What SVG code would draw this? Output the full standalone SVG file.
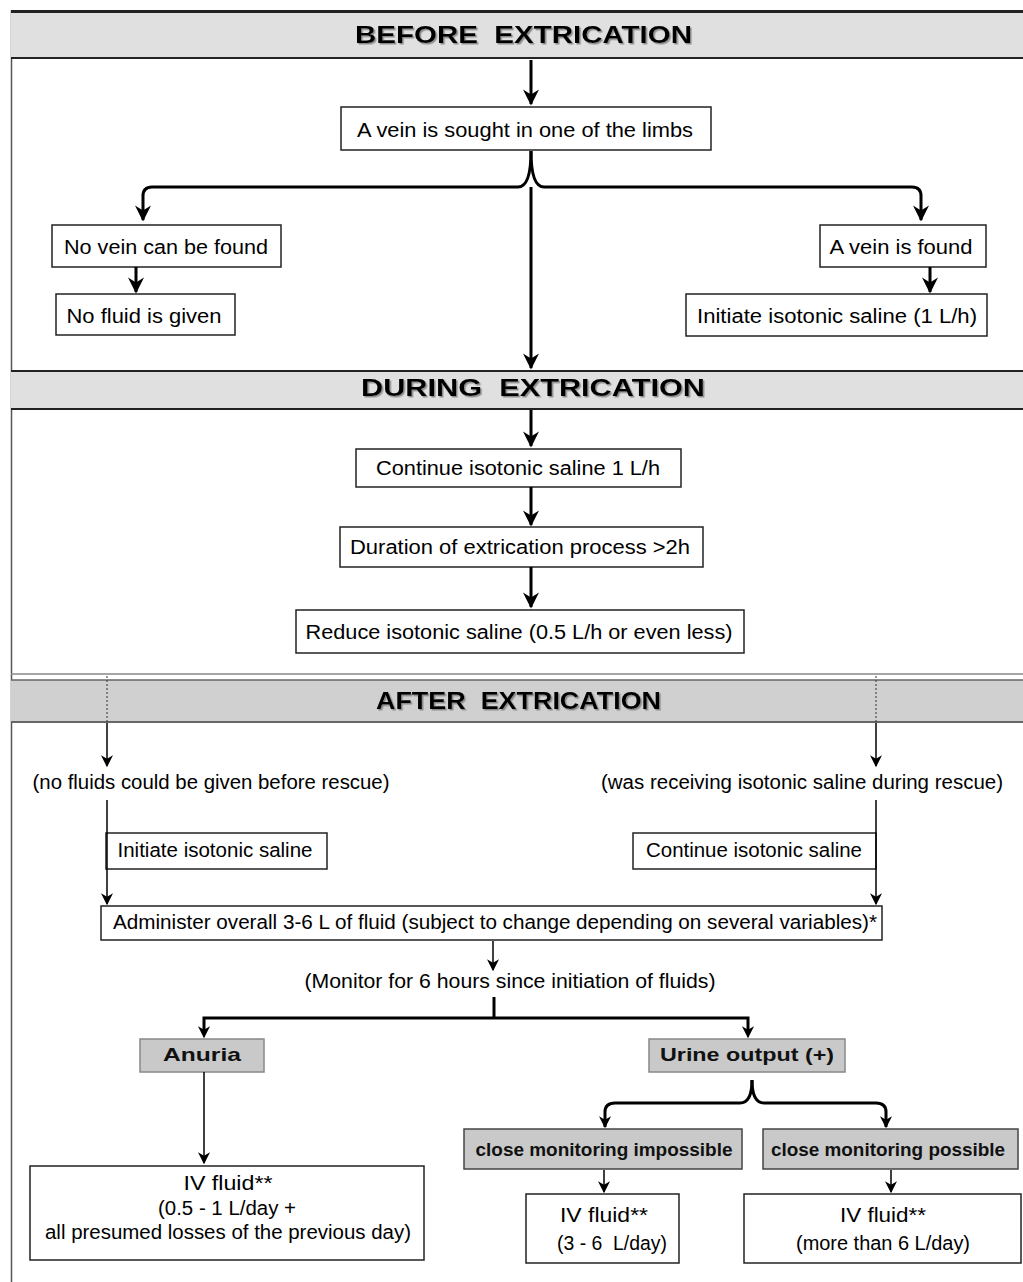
<svg xmlns="http://www.w3.org/2000/svg" width="1023" height="1282" viewBox="0 0 1023 1282">
<defs>
<marker id="ahb" viewBox="0 0 10 10" refX="9" refY="5" markerWidth="18" markerHeight="16" orient="auto" markerUnits="userSpaceOnUse">
<path d="M0,0 L10,5 L0,10 L3,5 Z" fill="#000"/>
</marker>
<marker id="aht" viewBox="0 0 10 10" refX="9" refY="5" markerWidth="14" markerHeight="12" orient="auto" markerUnits="userSpaceOnUse">
<path d="M0,0 L10,5 L0,10 L3,5 Z" fill="#000"/>
</marker>
<filter id="sh" x="-5%" y="-20%" width="110%" height="150%">
<feDropShadow dx="1.5" dy="1.5" stdDeviation="0.6" flood-color="#777" flood-opacity="0.8"/>
</filter>
<style>
text{font-family:"Liberation Sans",Arial,sans-serif;fill:#000;}
.t{font-size:20px;text-anchor:middle;}
.h{font-size:24px;font-weight:bold;text-anchor:middle;filter:url(#sh);}
.g{font-size:19px;font-weight:bold;text-anchor:middle;fill:#111;}
.box{fill:#fff;stroke:#222;stroke-width:1.5;}
.gbox{fill:#c9c9c9;stroke:#888;stroke-width:1.5;}
.gbox2{fill:#c9c9c9;stroke:#444;stroke-width:1.5;}
.ban{fill:#e0e0e0;}
.ban3{fill:#d0d0d0;}
.thick{fill:none;stroke:#000;stroke-width:3;}
.thin{fill:none;stroke:#000;stroke-width:1.5;}
</style>
</defs>

<!-- outer frame -->
<line x1="11.5" y1="10" x2="11.5" y2="1282" stroke="#555" stroke-width="1.5"/>

<!-- banners -->
<g id="banner-before">
<rect class="ban" x="11" y="12" width="1012" height="46"/>
<line x1="11" y1="11.5" x2="1023" y2="11.5" stroke="#222" stroke-width="3"/>
<line x1="11" y1="58" x2="1023" y2="58" stroke="#222" stroke-width="2"/>
<text class="h" x="523.5" y="43" textLength="337" lengthAdjust="spacingAndGlyphs">BEFORE&#160; EXTRICATION</text>
</g>
<g id="banner-during">
<rect class="ban" x="11" y="371" width="1012" height="38"/>
<line x1="11" y1="371" x2="1023" y2="371" stroke="#222" stroke-width="2"/>
<line x1="11" y1="409" x2="1023" y2="409" stroke="#222" stroke-width="2"/>
<text class="h" x="533" y="396" textLength="344" lengthAdjust="spacingAndGlyphs">DURING&#160; EXTRICATION</text>
</g>
<g id="banner-after">
<line x1="11" y1="674" x2="1023" y2="674" stroke="#888" stroke-width="1.5"/>
<rect class="ban3" x="11" y="680" width="1012" height="42"/>
<line x1="11" y1="680" x2="1023" y2="680" stroke="#666" stroke-width="1.5"/>
<line x1="11" y1="722" x2="1023" y2="722" stroke="#666" stroke-width="2"/>
<text class="h" x="518.5" y="709" textLength="285" lengthAdjust="spacingAndGlyphs">AFTER&#160; EXTRICATION</text>
</g>

<!-- nodes -->
<g id="n-sought"><rect class="box" x="341" y="107" width="370" height="43"/><text class="t" x="525" y="137" textLength="336" lengthAdjust="spacingAndGlyphs">A vein is sought in one of the limbs</text></g>
<g id="n-novein"><rect class="box" x="52" y="225" width="229" height="42"/><text class="t" x="166" y="254" textLength="204" lengthAdjust="spacingAndGlyphs">No vein can be found</text></g>
<g id="n-nofluid"><rect class="box" x="56" y="294" width="179" height="41"/><text class="t" x="144" y="323" textLength="155" lengthAdjust="spacingAndGlyphs">No fluid is given</text></g>
<g id="n-veinfound"><rect class="box" x="820" y="225" width="166" height="42"/><text class="t" x="901" y="254" textLength="143" lengthAdjust="spacingAndGlyphs">A vein is found</text></g>
<g id="n-initiate1"><rect class="box" x="686" y="294" width="301" height="42"/><text class="t" x="837" y="323" textLength="280" lengthAdjust="spacingAndGlyphs">Initiate isotonic saline (1 L/h)</text></g>
<g id="n-continue1"><rect class="box" x="356" y="449" width="325" height="38"/><text class="t" x="518" y="475" textLength="284" lengthAdjust="spacingAndGlyphs">Continue isotonic saline 1 L/h</text></g>
<g id="n-duration"><rect class="box" x="340" y="527" width="363" height="40"/><text class="t" x="520" y="554" textLength="340" lengthAdjust="spacingAndGlyphs">Duration of extrication process &gt;2h</text></g>
<g id="n-reduce"><rect class="box" x="296" y="610" width="448" height="43"/><text class="t" x="519" y="639" textLength="427" lengthAdjust="spacingAndGlyphs">Reduce isotonic saline (0.5 L/h or even less)</text></g>

<g id="n-nofluids-label"><text class="t" x="211" y="789" textLength="357" lengthAdjust="spacingAndGlyphs">(no fluids could be given before rescue)</text></g>
<g id="n-receiving-label"><text class="t" x="802" y="789" textLength="402" lengthAdjust="spacingAndGlyphs">(was receiving isotonic saline during rescue)</text></g>
<g id="n-initiate2"><rect class="box" x="106" y="833" width="221" height="36"/><text class="t" x="215" y="857" textLength="195" lengthAdjust="spacingAndGlyphs">Initiate isotonic saline</text></g>
<g id="n-continue2"><rect class="box" x="633" y="833" width="243" height="36"/><text class="t" x="754" y="857" textLength="216" lengthAdjust="spacingAndGlyphs">Continue isotonic saline</text></g>
<g id="n-administer"><rect class="box" x="101" y="906" width="781" height="34"/><text class="t" x="495" y="929" textLength="764" lengthAdjust="spacingAndGlyphs">Administer overall 3-6 L of fluid (subject to change depending on several variables)*</text></g>
<g id="n-monitor-label"><text class="t" x="510" y="988" textLength="411" lengthAdjust="spacingAndGlyphs">(Monitor for 6 hours since initiation of fluids)</text></g>
<g id="n-anuria"><rect class="gbox" x="140" y="1039" width="124" height="33"/><text class="g" x="202" y="1061" textLength="78" lengthAdjust="spacingAndGlyphs">Anuria</text></g>
<g id="n-urine"><rect class="gbox" x="649" y="1039" width="196" height="33"/><text class="g" x="747" y="1061" textLength="174" lengthAdjust="spacingAndGlyphs">Urine output (+)</text></g>
<g id="n-impossible"><rect class="gbox2" x="464" y="1129" width="278" height="40"/><text class="g" x="604" y="1156" textLength="257" lengthAdjust="spacingAndGlyphs">close monitoring impossible</text></g>
<g id="n-possible"><rect class="gbox2" x="763" y="1129" width="255" height="40"/><text class="g" x="888" y="1156" textLength="234" lengthAdjust="spacingAndGlyphs">close monitoring possible</text></g>
<g id="n-iv1"><rect class="box" x="30" y="1166" width="394" height="94"/>
<text class="t" x="228" y="1190" textLength="89" lengthAdjust="spacingAndGlyphs">IV fluid**</text><text class="t" x="227" y="1215" textLength="138" lengthAdjust="spacingAndGlyphs">(0.5 - 1 L/day +</text><text class="t" x="228" y="1239" textLength="366" lengthAdjust="spacingAndGlyphs">all presumed losses of the previous day)</text></g>
<g id="n-iv2"><rect class="box" x="526" y="1194" width="153" height="69"/>
<text class="t" x="604" y="1222" textLength="88" lengthAdjust="spacingAndGlyphs">IV fluid**</text><text class="t" x="612" y="1250" textLength="110" lengthAdjust="spacingAndGlyphs">(3 - 6&#160; L/day)</text></g>
<g id="n-iv3"><rect class="box" x="744" y="1194" width="277" height="69"/>
<text class="t" x="883" y="1222" textLength="86" lengthAdjust="spacingAndGlyphs">IV fluid**</text><text class="t" x="883" y="1250" textLength="174" lengthAdjust="spacingAndGlyphs">(more than 6 L/day)</text></g>

<!-- connectors -->
<g id="connectors">
<path class="thick" d="M531,60 V104" marker-end="url(#ahb)"/>
<path class="thick" d="M531,187 V368" marker-end="url(#ahb)"/>
<path class="thick" d="M531,151 Q531,187 518,187 H152 Q143,187 143,196 V220" marker-end="url(#ahb)"/>
<path class="thick" d="M531,151 Q531,187 544,187 H912 Q921,187 921,196 V220" marker-end="url(#ahb)"/>
<path class="thick" d="M136,267 V292" marker-end="url(#ahb)"/>
<path class="thick" d="M930,267 V292" marker-end="url(#ahb)"/>
<path class="thick" d="M531,410 V446" marker-end="url(#ahb)"/>
<path class="thick" d="M531,487 V525" marker-end="url(#ahb)"/>
<path class="thick" d="M531,567 V607" marker-end="url(#ahb)"/>

<line x1="107" y1="676" x2="107" y2="722" stroke="#333" stroke-width="1" stroke-dasharray="2,2"/>
<line x1="876" y1="676" x2="876" y2="722" stroke="#333" stroke-width="1" stroke-dasharray="2,2"/>
<path class="thin" d="M107,723 V766" marker-end="url(#aht)"/>
<path class="thin" d="M876,723 V766" marker-end="url(#aht)"/>
<path class="thin" d="M107,800 V904" marker-end="url(#aht)"/>
<path class="thin" d="M876,800 V904" marker-end="url(#aht)"/>
<path class="thin" d="M493,941 V970" marker-end="url(#aht)"/>
<path class="thick" d="M494,997 V1018"/>
<path class="thick" d="M748,1030 V1018 H204 V1030"/>
<path class="thin" d="M204,1020 V1037" marker-end="url(#aht)"/>
<path class="thin" d="M748,1020 V1037" marker-end="url(#aht)"/>
<path class="thin" d="M204,1072 V1163" marker-end="url(#aht)"/>
<path class="thick" d="M752,1080 Q752,1103 740,1103 H615 Q605,1103 605,1112 V1127" marker-end="url(#aht)"/>
<path class="thick" d="M752,1080 Q752,1103 764,1103 H876 Q886,1103 886,1112 V1127" marker-end="url(#aht)"/>
<path class="thin" d="M604,1170 V1192" marker-end="url(#aht)"/>
<path class="thin" d="M891,1170 V1192" marker-end="url(#aht)"/>
</g>
</svg>
